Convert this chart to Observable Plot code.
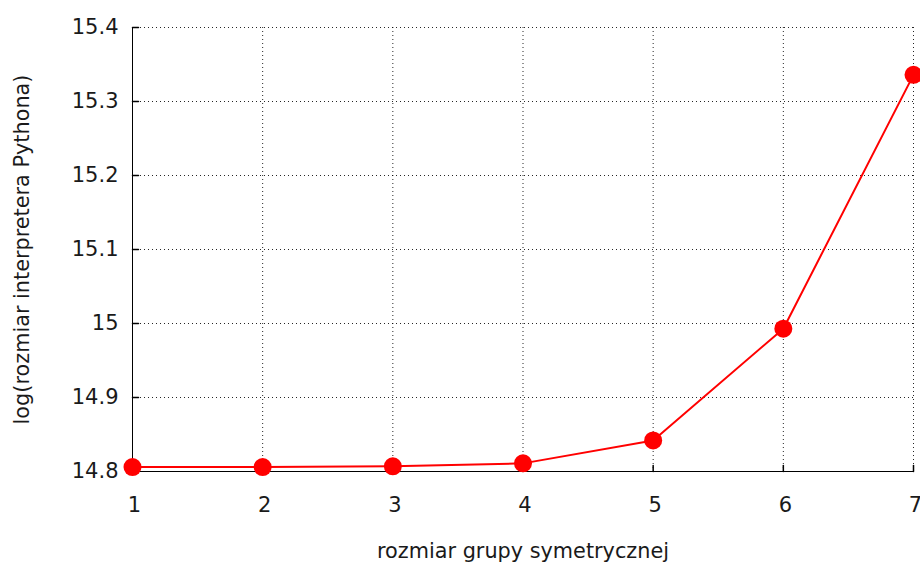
<!DOCTYPE html>
<html>
<head>
<meta charset="utf-8">
<script src="https://cdn.jsdelivr.net/npm/d3@7"></script>
<script src="https://cdn.jsdelivr.net/npm/@observablehq/plot@0.6"></script>
<style>
  html, body { margin: 0; padding: 0; background: #fff; }
  svg { display: block; }
</style>
</head>
<body>
<div id="chart"></div>
<script>
const groupSizes = [1, 2, 3, 4, 5, 6, 7];
const logSizes = [14.806, 14.806, 14.807, 14.811, 14.842, 14.993, 15.336];
const xTicks = [1, 2, 3, 4, 5, 6, 7];
const yTicks = [14.8, 14.9, 15.0, 15.1, 15.2, 15.3, 15.4];
const yTickLabels = ["14.8", "14.9", "15", "15.1", "15.2", "15.3", "15.4"];
const xLabel = "rozmiar grupy symetrycznej";
const yLabel = "log(rozmiar interpretera Pythona)";

const data = groupSizes.map((g, i) => ({g, v: logSizes[i]}));
const font = "DejaVu Sans, Verdana, sans-serif";
const tickShape = {draw(ctx, l) { ctx.moveTo(0, 0); ctx.lineTo(0, -l); }};

const chart = Plot.plot({
  width: 920,
  height: 565,
  marginLeft: 132,
  marginRight: 7,
  marginTop: 27,
  marginBottom: 94,
  style: {fontFamily: font, fontSize: "21px", color: "#000", background: "#fff", overflow: "visible"},
  x: {domain: [1, 7]},
  y: {domain: [14.8, 15.4]},
  marks: [
    Plot.gridX(xTicks, {stroke: "#000", strokeOpacity: 0.85, strokeDasharray: "1,3"}),
    Plot.gridY(yTicks, {stroke: "#000", strokeOpacity: 0.85, strokeDasharray: "1,3"}),
    Plot.ruleX([1], {stroke: "#000", strokeWidth: 1}),
    Plot.ruleY([14.8], {stroke: "#000", strokeWidth: 1}),
    Plot.vector(xTicks, {x: d => d, y: 14.8, length: 6, rotate: 0, anchor: "start", shape: tickShape, stroke: "#000"}),
    Plot.vector(yTicks, {x: 1, y: d => d, length: 6, rotate: 90, anchor: "start", shape: tickShape, stroke: "#000"}),
    Plot.axisX(xTicks, {tickSize: 0, tickPadding: 26, label: null, fontSize: 21, fill: "#1a1a1a", dx: 2,
      tickFormat: d => String(d)}),
    Plot.axisY(yTicks, {tickSize: 0, tickPadding: 14, label: null, fontSize: 21, fill: "#1a1a1a",
      tickFormat: d => yTickLabels[yTicks.indexOf(d)]}),
    Plot.text([xLabel], {frameAnchor: "bottom", dy: 80, lineAnchor: "middle", textAnchor: "middle", fontSize: 20.8, fill: "#1a1a1a"}),
    Plot.text([yLabel], {frameAnchor: "left", dx: -110, rotate: -90, lineAnchor: "middle", textAnchor: "middle", fontSize: 20.8, fill: "#1a1a1a"}),
    Plot.line(data, {x: "g", y: "v", stroke: "#ff0000", strokeWidth: 2}),
    Plot.dot(data, {x: "g", y: "v", r: 9, fill: "#ff0000", stroke: "none"})
  ]
});
document.getElementById("chart").append(chart);
</script>
</body>
</html>
